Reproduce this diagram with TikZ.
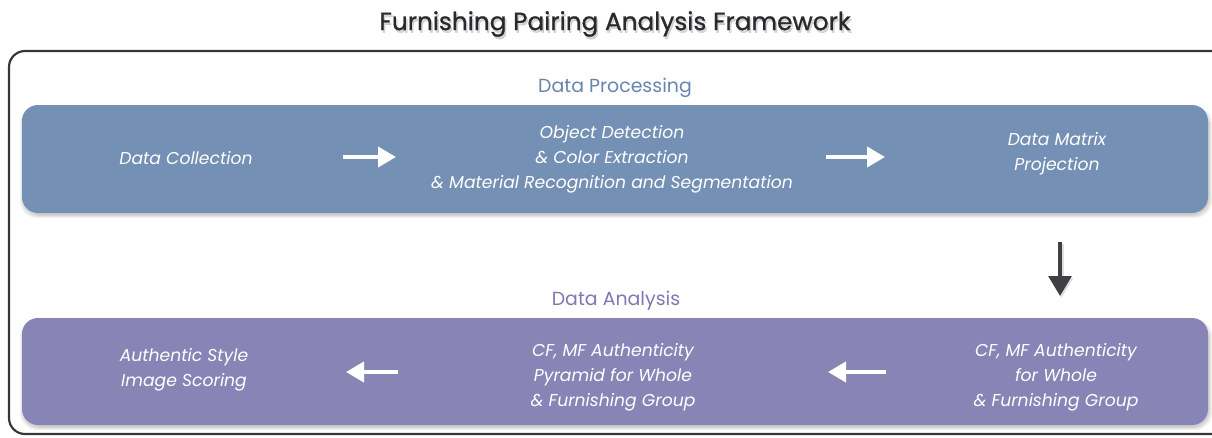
\documentclass[tikz,border=0pt]{standalone}
\usepackage{fontspec}
\setmainfont{Poppins}
\newfontfamily\titlefont[FakeBold=0.8]{Poppins}
\usetikzlibrary{arrows.meta}
\definecolor{procblue}{RGB}{116,144,181}
\definecolor{anapurple}{RGB}{137,132,182}
\definecolor{proctitle}{RGB}{104,132,176}
\definecolor{anatitle}{RGB}{128,118,181}
\definecolor{framegray}{RGB}{52,55,58}
\definecolor{titlegray}{RGB}{40,42,44}
\definecolor{downgray}{RGB}{62,64,67}
\begin{document}
\begin{tikzpicture}[x=0.75pt,y=-0.75pt,
  boxtext/.style={font=\fontsize{12.9}{18.75}\selectfont\itshape, text=white, align=center, inner sep=0pt},
  sectitle/.style={font=\fontsize{14.2}{17}\selectfont, inner sep=0pt},
  titletext/.style={font=\titlefont\fontsize{18.6}{22}\selectfont, inner sep=0pt},
  flow/.style={white, line width=3pt, -{Triangle[length=13.5pt,width=15pt]}},
  downflow/.style={downgray, line width=3pt, -{Triangle[length=15pt,width=17pt]}},
  softshadow/.style={fill=black, opacity=0.05, rounded corners=13}]
\useasboundingbox (0,0) rectangle (1212,437);
\clip (0,0) rectangle (1212,437);
\fill[white] (0,0) rectangle (1212,437);

% title with a soft shadow
\node[titletext, text=black, opacity=0.16] at (616.5,26.5) {Furnishing Pairing Analysis Framework};
\node (title) [titletext, text=titlegray] at (615,24) {Furnishing Pairing Analysis Framework};

% outer frame
\draw[framegray, line width=1.6pt, rounded corners=12] (9,51) rectangle (1240,434);

% panel shadows
\foreach \d in {0,1,2,3} {
  \fill[softshadow] (22-\d+1,105+2-\d+2) rectangle (1208+\d+1,213+\d+2);
  \fill[softshadow] (22-\d+1,318+2-\d+2) rectangle (1208+\d+1,425+\d+2);
}

% panels
\fill[procblue, rounded corners=12] (22,105) rectangle (1208,213);
\fill[anapurple, rounded corners=12] (22,318) rectangle (1208,425);

% section titles
\node (proc) [sectitle, text=proctitle] at (615,88) {Data Processing};
\node (ana) [sectitle, text=anatitle] at (616,301) {Data Analysis};

% processing steps
\node (collect) [boxtext] at (186,158) {Data Collection};
\node (detect) [boxtext] at (612,159) {Object Detection\\ \& Color Extraction\\ \& Material Recognition and Segmentation};
\node (matrix) [boxtext] at (1057,154) {Data Matrix\\ Projection};

% analysis steps
\node (scoring) [boxtext] at (184,370) {Authentic Style\\ Image Scoring};
\node (pyramid) [boxtext] at (613,377) {CF, MF Authenticity\\ Pyramid for Whole\\ \& Furnishing Group};
\node (whole) [boxtext] at (1056,377) {CF, MF Authenticity\\ for Whole\\ \& Furnishing Group};

% arrow end points
\coordinate (a1s) at (343,157);
\coordinate (a1e) at (396,157);
\coordinate (a2s) at (826,157);
\coordinate (a2e) at (885,157);
\coordinate (a3s) at (1060,242);
\coordinate (a3e) at (1060,296);
\coordinate (a4s) at (886,372);
\coordinate (a4e) at (828,372);
\coordinate (a5s) at (398,372);
\coordinate (a5e) at (346,372);

\draw[flow] (a1s) -- (a1e);
\draw[flow] (a2s) -- (a2e);
\draw[black, opacity=0.12, line width=3pt, -{Triangle[length=15pt,width=17pt]}] (1061.5,244) -- (1061.5,298);
\draw[downflow] (a3s) -- (a3e);
\draw[flow] (a4s) -- (a4e);
\draw[flow] (a5s) -- (a5e);
\end{tikzpicture}
\end{document}
